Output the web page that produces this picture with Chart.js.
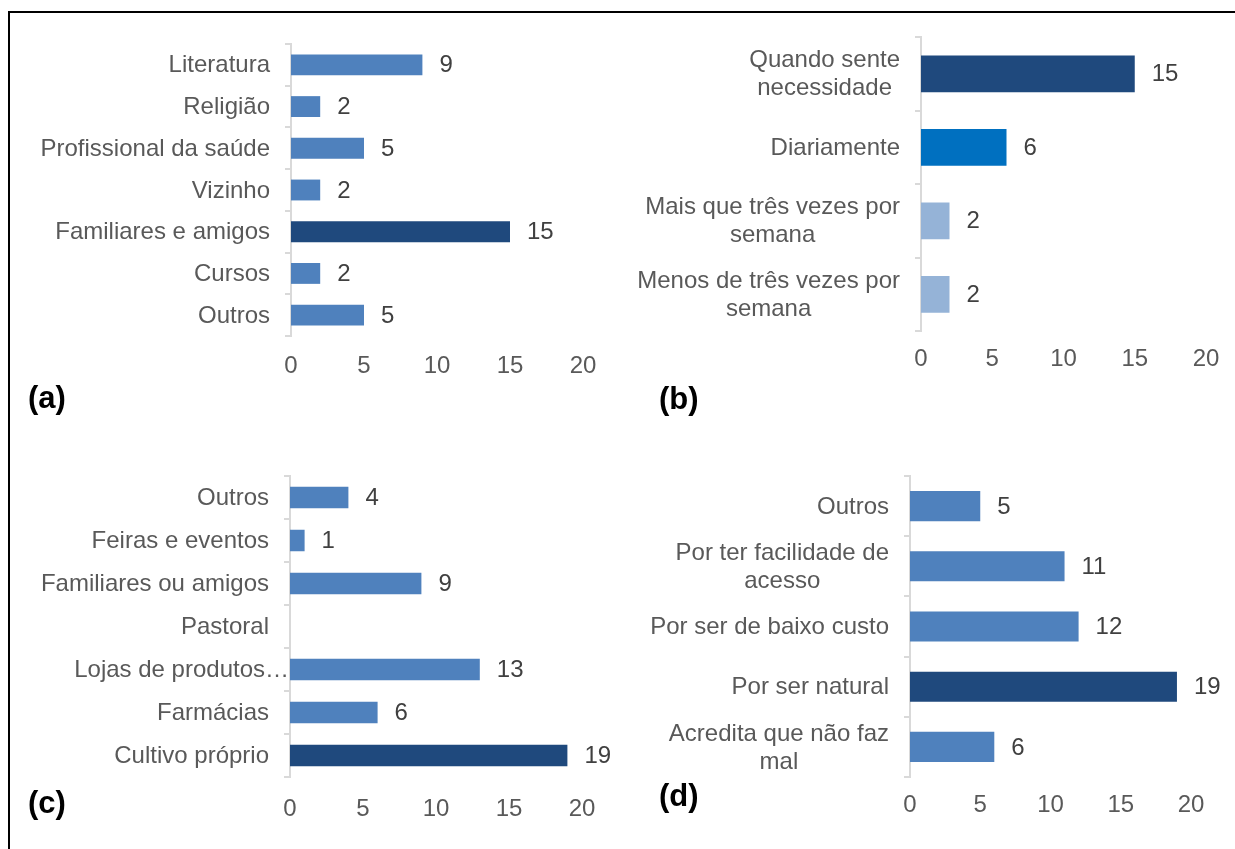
<!DOCTYPE html>
<html>
<head>
<meta charset="utf-8">
<script src="https://cdn.jsdelivr.net/npm/chart.js@4.4.1/dist/chart.umd.min.js"></script>
<style>
  body { margin: 0; width: 1235px; height: 849px; background: #fff; position: relative; overflow: hidden; font-family: "Liberation Sans", Arial, sans-serif; }
  .frame { position: absolute; left: 8px; top: 11px; right: 0; bottom: 0; border-left: 2px solid #000; border-top: 2px solid #000; }
  canvas { position: absolute; }
  .tag { position: absolute; font-weight: bold; font-size: 31px; line-height: 31px; color: #000; z-index: 2; }
</style>
</head>
<body>
<div class="frame"></div>
<canvas id="chartA" width="605" height="410" style="left:10px;top:14px"></canvas>
<canvas id="chartB" width="618" height="410" style="left:617px;top:14px"></canvas>
<canvas id="chartC" width="605" height="415" style="left:10px;top:434px"></canvas>
<canvas id="chartD" width="618" height="415" style="left:617px;top:434px"></canvas>
<div class="tag" style="left:28px;top:382px">(a)</div>
<div class="tag" style="left:659px;top:383px">(b)</div>
<div class="tag" style="left:28px;top:787px">(c)</div>
<div class="tag" style="left:659px;top:780px">(d)</div>
<script>
// data
const labelsA = ['Literatura', 'Religião', 'Profissional da saúde', 'Vizinho', 'Familiares e amigos', 'Cursos', 'Outros'];
const valuesA = [9, 2, 5, 2, 15, 2, 5];

const labelsB = [['Quando sente', 'necessidade'], 'Diariamente', ['Mais que três vezes por', 'semana'], ['Menos de três vezes por', 'semana']];
const valuesB = [15, 6, 2, 2];

const labelsC = ['Outros', 'Feiras e eventos', 'Familiares ou amigos', 'Pastoral', 'Lojas de produtos…', 'Farmácias', 'Cultivo próprio'];
const valuesC = [4, 1, 9, null, 13, 6, 19];

const labelsD = ['Outros', ['Por ter facilidade de', 'acesso'], 'Por ser de baixo custo', 'Por ser natural', ['Acredita que não faz', 'mal']];
const valuesD = [5, 11, 12, 19, 6];

const xMin = 0, xMax = 20, xStep = 5;

// styles
const FONT = '"Liberation Sans", Arial, sans-serif';
const BLUE = '#4f81bd', DARK = '#1f497d', MID = '#0070c0', LIGHT = '#95b3d7';

// value labels next to bars + centred multi-line category labels
const barLabels = {
  id: 'barLabels',
  afterDatasetsDraw(chart) {
    const ctx = chart.ctx;
    const vals = chart.data.datasets[0].data;
    ctx.save();
    ctx.font = '24px ' + FONT;
    ctx.textBaseline = 'middle';
    ctx.textAlign = 'left';
    ctx.fillStyle = '#404040';
    chart.getDatasetMeta(0).data.forEach((bar, i) => {
      if (vals[i] == null) return;
      ctx.fillText(String(vals[i]), bar.x + 17, bar.y + 1);
    });

    const yScale = chart.scales.y;
    ctx.fillStyle = '#595959';
    ctx.textAlign = 'center';
    chart.data.labels.forEach((lab, i) => {
      const lines = Array.isArray(lab) ? lab : [lab];
      // truncated labels run right up to the axis, like in excel
      const gap = lines[0].endsWith('…') ? 1 : 21;
      const right = chart.chartArea.left - gap;
      const w = Math.max(...lines.map(l => ctx.measureText(l).width));
      const cx = right - w / 2;
      const yc = yScale.getPixelForValue(i);
      lines.forEach((l, k) => {
        ctx.fillText(l, cx, yc + 1 + (k - (lines.length - 1) / 2) * 28);
      });
    });
    ctx.restore();
  }
};

function makeChart(id, labels, values, colors, box) {
  return new Chart(document.getElementById(id), {
    type: 'bar',
    data: {
      labels: labels,
      datasets: [{
        data: values,
        backgroundColor: colors,
        categoryPercentage: 1,
        barPercentage: 0.5
      }]
    },
    options: {
      indexAxis: 'y',
      responsive: false,
      animation: false,
      layout: { padding: { top: box.top, right: box.right, left: 0, bottom: 0 } },
      plugins: { legend: { display: false }, tooltip: { enabled: false } },
      scales: {
        x: {
          min: xMin, max: xMax,
          ticks: { stepSize: xStep, color: '#595959', font: { size: 24, family: FONT }, padding: box.pad },
          grid: { display: false, drawTicks: false },
          border: { display: false },
          afterFit: s => { s.height = box.xh; }
        },
        y: {
          ticks: { display: false },
          grid: { drawOnChartArea: false, tickLength: 6, color: '#d9d9d9', lineWidth: 2 },
          border: { color: '#d9d9d9', width: 2 },
          afterFit: s => { s.width = box.yw; }
        }
      }
    },
    plugins: [barLabels]
  });
}

makeChart('chartA', labelsA, valuesA,
  [BLUE, BLUE, BLUE, BLUE, DARK, BLUE, BLUE],
  { top: 30, right: 32, yw: 281, xh: 88, pad: 16 });

makeChart('chartB', labelsB, valuesB,
  [DARK, MID, LIGHT, LIGHT],
  { top: 23, right: 29, yw: 304, xh: 93, pad: 14 });

makeChart('chartC', labelsC, valuesC,
  [BLUE, BLUE, BLUE, BLUE, BLUE, BLUE, DARK],
  { top: 42, right: 33, yw: 280, xh: 72, pad: 18 });

makeChart('chartD', labelsD, valuesD,
  [BLUE, BLUE, BLUE, DARK, BLUE],
  { top: 42, right: 44, yw: 293, xh: 72, pad: 14 });
</script>
</body>
</html>
